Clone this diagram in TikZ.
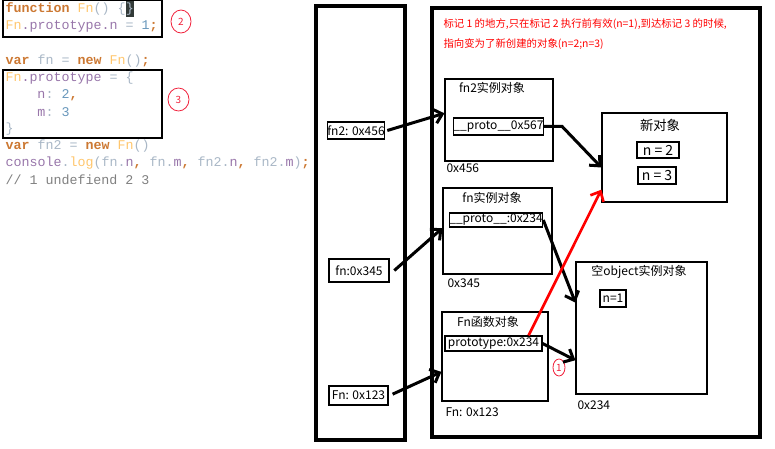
\documentclass[tikz,border=0pt]{standalone}
\usepackage{fontspec}
\setmonofont{Liberation Mono}
\newfontfamily\cjk{Noto Sans CJK SC}
\usetikzlibrary{arrows.meta,shapes.geometric,fit}

\definecolor{jskey}{HTML}{CC7832}
\definecolor{jsfn}{HTML}{FFC66D}
\definecolor{jsprop}{HTML}{9876AA}
\definecolor{jsplain}{HTML}{A9B7C6}
\definecolor{jsnum}{HTML}{6897BB}
\definecolor{jscmt}{HTML}{808080}
\definecolor{hlbg}{HTML}{323A38}
\definecolor{tagred}{HTML}{F0203A}

\newcommand{\jsKw}[1]{\textcolor{jskey}{\textbf{#1}}}
\newcommand{\jsFn}[1]{\textcolor{jsfn}{#1}}
\newcommand{\jsPr}[1]{\textcolor{jsprop}{#1}}
\newcommand{\jsPl}[1]{\textcolor{jsplain}{#1}}
\newcommand{\jsNum}[1]{\textcolor{jsnum}{#1}}
\newcommand{\jsCmt}[1]{\textcolor{jscmt}{#1}}

\tikzset{every picture/.style={line width=0.75pt}}
\tikzset{
  codeline/.style={anchor=west,inner sep=0pt,font=\fontsize{10}{12}\selectfont\ttfamily},
  codebox/.style={draw,line width=1pt},
  frame/.style={draw,line width=3pt},
  objbox/.style={draw,line width=0.9pt,inner sep=0pt},
  field/.style={draw,line width=0.9pt,inner sep=0pt,font=\cjk\fontsize{9}{10}\selectfont},
  valfield/.style={field,font=\cjk\fontsize{10.5}{11}\selectfont},
  objtext/.style={inner sep=0pt,font=\cjk\fontsize{9}{10}\selectfont},
  notetext/.style={anchor=west,inner sep=0pt,text=red,font=\cjk\fontsize{7.8}{9}\selectfont},
  tagoval/.style={ellipse,draw=tagred,line width=0.6pt,inner sep=0pt,text=tagred,font=\cjk\fontsize{7.5}{8}\selectfont},
  ptr/.style={draw,line width=2.25pt,-{Straight Barb[length=6pt,width=11pt]}},
  redptr/.style={draw=red,line width=2pt,-{Straight Barb[length=6pt,width=11pt]}}
}

\begin{document}
\begin{tikzpicture}[x=0.75pt,y=0.75pt,yscale=-1,xscale=1]
\useasboundingbox (0,0) rectangle (775,449);

%Shape: Rectangle
\draw [codebox] (3,0) rectangle (162,37) ;
%Shape: Rectangle
\draw [codebox] (3,70) rectangle (162,138) ;

% Text Node
\node [codeline] (codeA) at (5,9) {\jsKw{function} \jsFn{Fn}\jsPl{()} \jsPl{\{}{\setlength{\fboxsep}{0.3pt}\colorbox{hlbg}{\strut\jsPl{\}}}}};
% Text Node
\node [codeline] (codeB) at (5,26) {\jsFn{Fn}\jsPr{.prototype.n} \jsPl{=} \jsNum{1}\jsKw{;}};
% Text Node
\node [codeline] (codeC) at (5,61) {\jsKw{var} \jsPl{fn} \jsPl{=} \jsKw{new} \jsFn{Fn}\jsPl{()}\jsKw{;}};
% Text Node
\node [codeline] (codeD) at (5,78) {\jsFn{Fn}\jsPr{.prototype} \jsPl{=} \jsPl{\{}};
% Text Node
\node [codeline] (codeE) at (37,95) {\jsPr{n}\jsPl{:} \jsNum{2}\jsKw{,}};
% Text Node
\node [codeline] (codeF) at (37,112) {\jsPr{m}\jsPl{:} \jsNum{3}};
% Text Node
\node [codeline] (codeG) at (5,129) {\jsPl{\}}};
% Text Node
\node [codeline] (codeH) at (5,146) {\jsKw{var} \jsPl{fn2} \jsPl{=} \jsKw{new} \jsFn{Fn}\jsPl{()}};
% Text Node
\node [codeline] (codeI) at (5,163) {\jsPr{console}\jsPl{.}\jsFn{log}\jsPl{(fn.}\jsPr{n}\jsKw{,} \jsPl{fn.}\jsPr{m}\jsKw{,} \jsPl{fn2.}\jsPr{n}\jsKw{,} \jsPl{fn2.}\jsPr{m}\jsPl{)}\jsKw{;}};
% Text Node
\node [codeline] (codeJ) at (5,180) {\jsCmt{// 1 undefiend 2 3}};

%Shape: Ellipse
\node [tagoval,minimum width=15pt,minimum height=17.25pt] (tagTwo) at (181,21.5) {2};
%Shape: Ellipse
\node [tagoval,minimum width=15.75pt,minimum height=17.25pt] (tagThree) at (178.5,99.5) {3};

%Shape: Rectangle
\draw [frame] (316,6) rectangle (405,440) ;
%Shape: Rectangle
\draw [frame] (432,8) rectangle (760,437) ;

% Text Node
\node [notetext] (noteA) at (443,24) {标记 1 的地方,只在标记 2 执行前有效(n=1),到达标记 3 的时候,};
% Text Node
\node [notetext] (noteB) at (443,44) {指向变为了新创建的对象(n=2;n=3)};

%Stack fields
\node [field,minimum width=42pt,minimum height=12.75pt] (fnTwoVar) at (356,130.5) {fn2: 0x456};
\node [field,minimum width=45pt,minimum height=17.25pt] (fnVar) at (359,270.5) {fn:0x345};
\node [field,minimum width=44.25pt,minimum height=14.25pt] (FnVar) at (358.5,395.5) {Fn: 0x123};

%Heap objects
\node [objbox,fit={(445,79) (553,161)}] (fnTwoObj) {};
\node [objtext] (fnTwoTitle) at (492,88) {fn2实例对象};
\node [field,minimum width=65.25pt,minimum height=12.75pt] (protoA) at (498.5,126.5) {\_\_proto\_\_0x567};
\node [objtext,anchor=west] (fnTwoAddr) at (446,168) {0x456};

\node [objbox,fit={(443,188) (552,274)}] (fnObj) {};
\node [objtext] (fnTitle) at (492,198) {fn实例对象};
\node [field,minimum width=69pt,minimum height=10.5pt] (protoB) at (496,220) {\_\_proto\_\_:0x234};
\node [objtext,anchor=west] (fnAddr) at (447,283) {0x345};

\node [objbox,fit={(442,312) (548,401)}] (FnObj) {};
\node [objtext] (FnTitle) at (488,322) {Fn函数对象};
\node [field,minimum width=72.75pt,minimum height=11.25pt] (protoC) at (493.5,343.5) {prototype:0x234};
\node [objtext,anchor=west] (FnAddr) at (445,412) {Fn: 0x123};

\node [objbox,fit={(602,113) (727,202)}] (newObj) {};
\node [objtext,font=\cjk\fontsize{10}{11}\selectfont] (newTitle) at (660,125) {新对象};
\node [valfield,minimum width=31.5pt,minimum height=12pt] (valTwo) at (658,150) {n = 2};
\node [valfield,minimum width=28.5pt,minimum height=12.75pt] (valThree) at (657,175.5) {n = 3};

\node [objbox,fit={(576,262) (707,394)}] (emptyObj) {};
\node [objtext] (emptyTitle) at (639,272) {空object实例对象};
\node [field,minimum width=19.5pt,minimum height=12.75pt] (valOne) at (613,298.5) {n=1};
\node [objtext,anchor=west] (emptyAddr) at (577,405) {0x234};

%Shape: Ellipse
\node [tagoval,minimum width=9pt,minimum height=12.75pt] (tagOne) at (559,367.5) {1};

%Straight Lines
\draw [ptr] ([xshift=1.5pt]fnTwoVar.east) -- (fnTwoObj.173) ;
\draw [ptr] ([xshift=3.5pt]fnVar.east) -- (fnObj.177) ;
\draw [ptr] ([xshift=3pt,yshift=-1pt]FnVar.east) -- (FnObj.196) ;
\draw [ptr] (protoA.east) -- ++(18,0) -- (newObj.189) ;
\draw [ptr] (protoB.east) -- (emptyObj.159) ;
\draw [ptr] (protoC.east) -- (emptyObj.206) ;
\draw [redptr] (protoC.13) -- (newObj.207) ;

\end{tikzpicture}
\end{document}
